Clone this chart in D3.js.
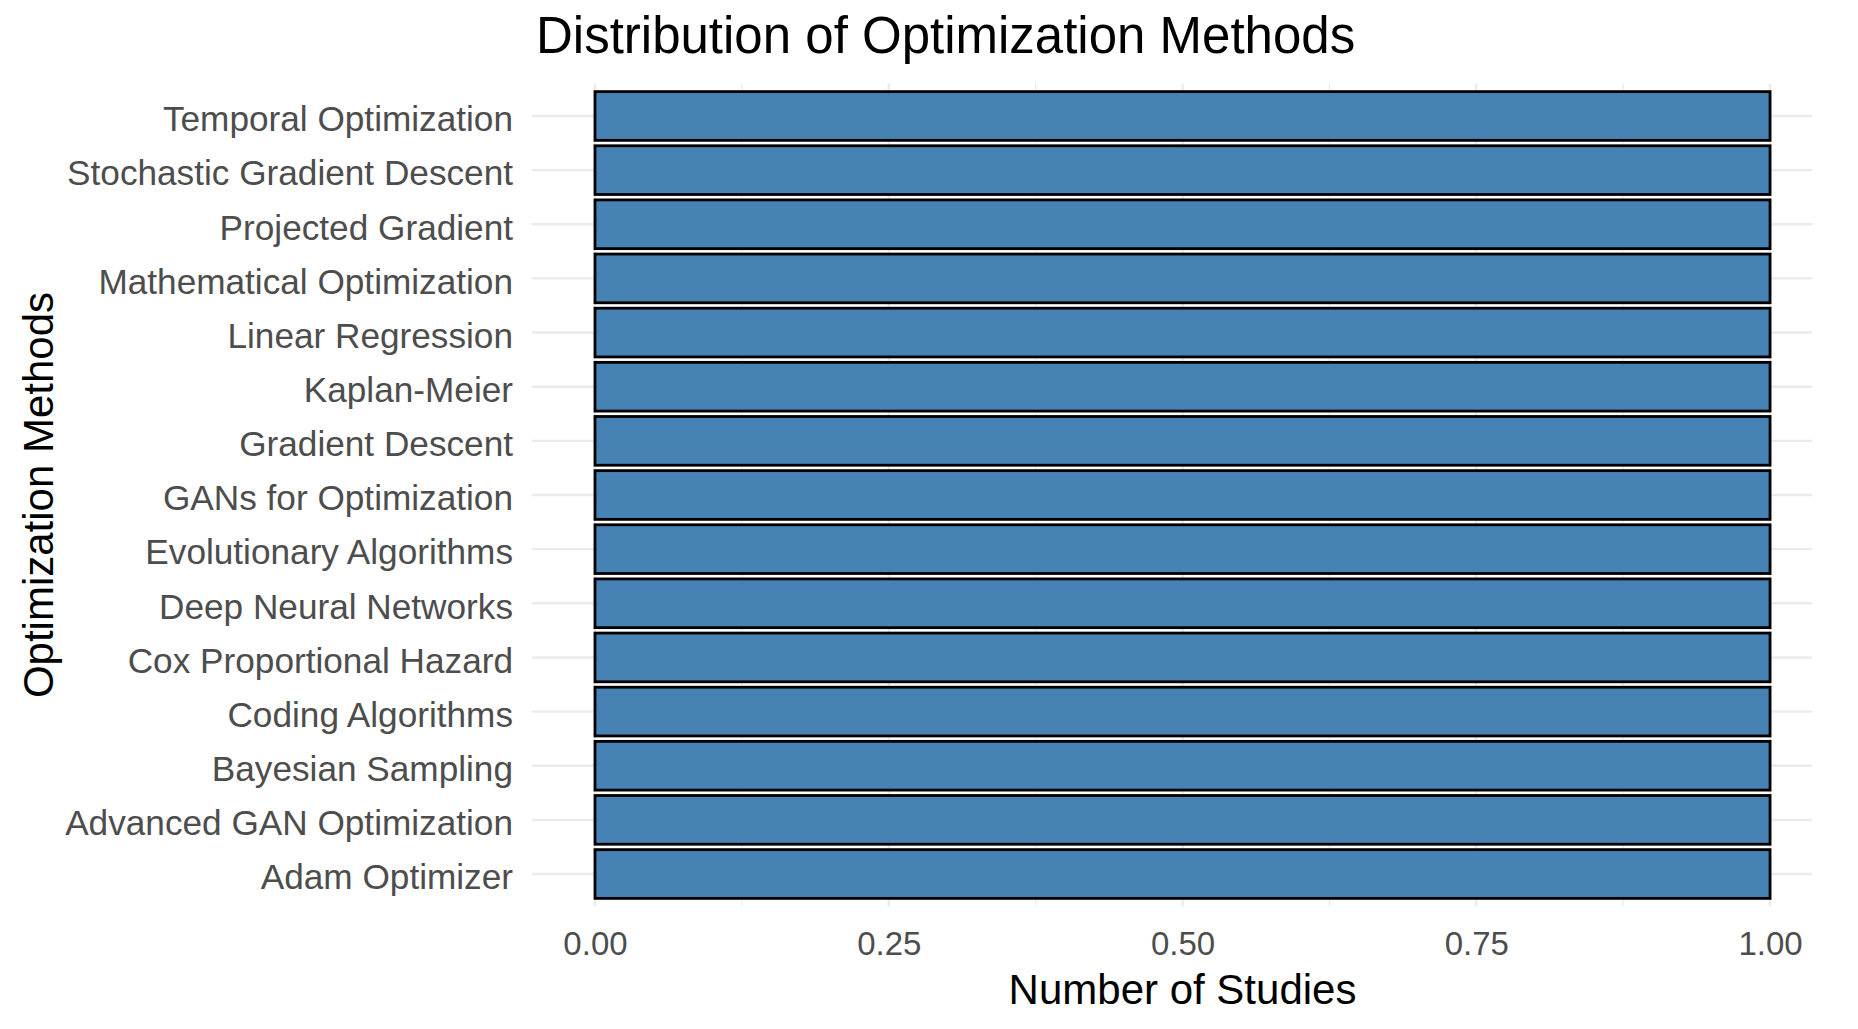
<!DOCTYPE html>
<html><head><meta charset="utf-8">
<script src="https://cdn.jsdelivr.net/npm/d3@7"></script>
<style>body{margin:0;background:#fff}svg{display:block}text{font-family:"Liberation Sans",Arial,sans-serif}</style>
</head><body>
<script>
const categories = ["Temporal Optimization","Stochastic Gradient Descent","Projected Gradient","Mathematical Optimization","Linear Regression","Kaplan-Meier","Gradient Descent","GANs for Optimization","Evolutionary Algorithms","Deep Neural Networks","Cox Proportional Hazard","Coding Algorithms","Bayesian Sampling","Advanced GAN Optimization","Adam Optimizer"];
const values = [1,1,1,1,1,1,1,1,1,1,1,1,1,1,1];
const xTicks = [0,0.25,0.5,0.75,1];
const xMinor = [0.125,0.375,0.625,0.875];

const W=1858,H=1029;
const panel={left:532,right:1812,top:83.5,bottom:906.5};
const svg=d3.select("body").append("svg").attr("width",W).attr("height",H);

const x=d3.scaleLinear().domain([-0.0536,1.0357]).range([panel.left,panel.right]);
const y=d3.scaleBand().domain(categories).range([panel.top,panel.bottom]).paddingInner(0.1).paddingOuter(0.15);

const g=svg.append("g");
g.selectAll("line.minor").data(xMinor).join("line")
 .attr("x1",d=>x(d)).attr("x2",d=>x(d)).attr("y1",panel.top).attr("y2",panel.bottom)
 .attr("stroke","#EBEBEB").attr("stroke-width",1.2);
g.selectAll("line.major").data(xTicks).join("line")
 .attr("x1",d=>x(d)).attr("x2",d=>x(d)).attr("y1",panel.top).attr("y2",panel.bottom)
 .attr("stroke","#EBEBEB").attr("stroke-width",2.4);
g.selectAll("line.hg").data(categories).join("line")
 .attr("x1",panel.left).attr("x2",panel.right)
 .attr("y1",d=>y(d)+y.bandwidth()/2).attr("y2",d=>y(d)+y.bandwidth()/2)
 .attr("stroke","#EBEBEB").attr("stroke-width",2.4);

g.selectAll("rect.bar").data(categories).join("rect")
 .attr("x",x(0)).attr("y",d=>y(d))
 .attr("width",(d,i)=>x(values[i])-x(0)).attr("height",y.bandwidth())
 .attr("fill","#4682B4").attr("stroke","#000").attr("stroke-width",2.8);

const yAxis=d3.axisLeft(y).tickSize(0).tickPadding(19);
const ya=svg.append("g").attr("transform",`translate(${panel.left},4)`).call(yAxis);
ya.select(".domain").remove();
ya.selectAll("text").attr("font-size",35.2).attr("fill","#4D4D4D").attr("font-family","'Liberation Sans',Arial,sans-serif");

const xAxis=d3.axisBottom(x).tickValues(xTicks).tickFormat(d3.format(".2f")).tickSize(0).tickPadding(25);
const xa=svg.append("g").attr("transform",`translate(0,${panel.bottom})`).call(xAxis);
xa.select(".domain").remove();
xa.selectAll("text").attr("font-size",33).attr("fill","#4D4D4D").attr("font-family","'Liberation Sans',Arial,sans-serif");

svg.append("text").attr("x",536).attr("y",53).attr("font-size",51).attr("fill","#000").text("Distribution of Optimization Methods");
svg.append("text").attr("x",x(0.5)).attr("y",1004).attr("text-anchor","middle").attr("font-size",42).attr("fill","#000").text("Number of Studies");
svg.append("text").attr("transform",`translate(53,${(panel.top+panel.bottom)/2}) rotate(-90)`).attr("text-anchor","middle").attr("font-size",42).attr("fill","#000").text("Optimization Methods");
</script>
</body></html>
